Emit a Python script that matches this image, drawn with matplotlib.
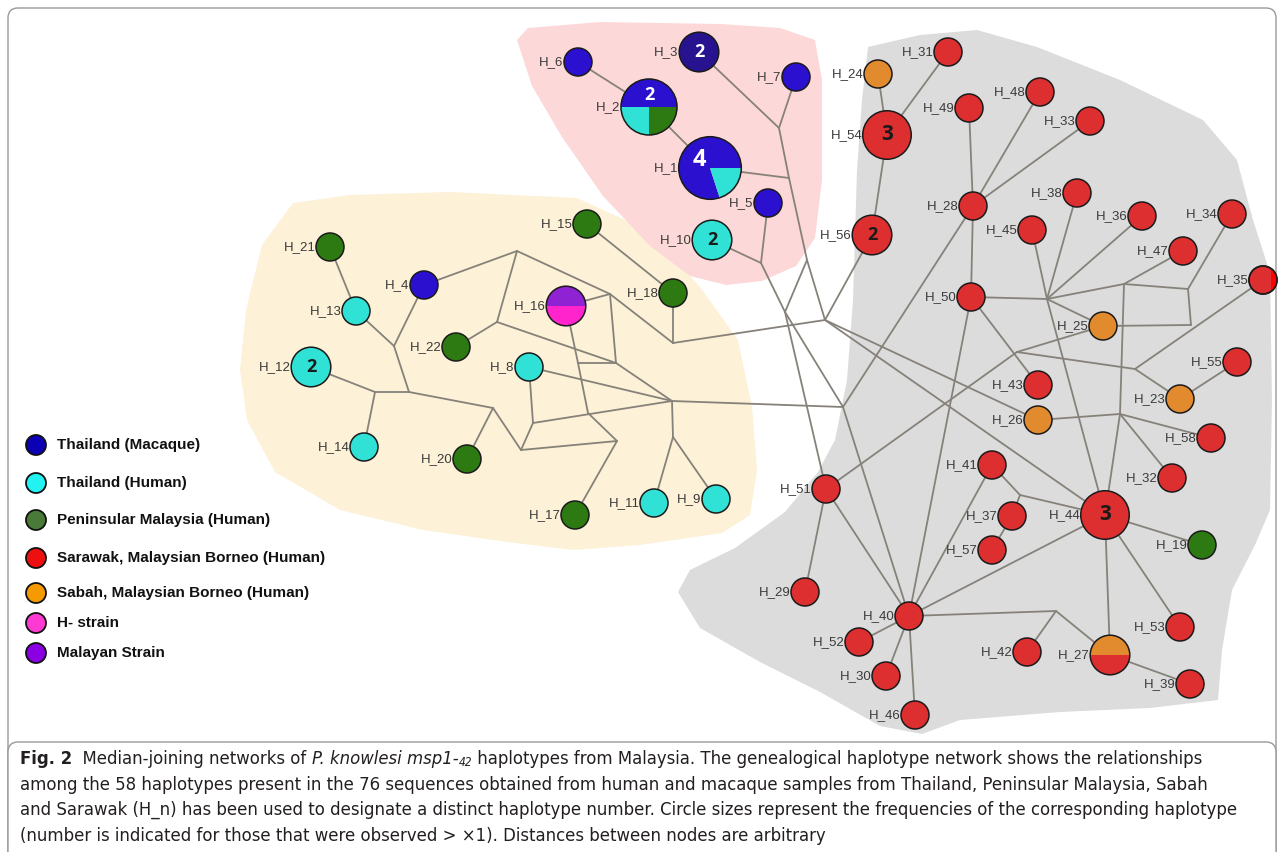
import numpy as np
import matplotlib
matplotlib.use("Agg")
import matplotlib.pyplot as plt
from matplotlib import font_manager
from matplotlib.patches import Circle, Wedge, Polygon, FancyBboxPatch, Rectangle

W, H = 1285, 852

# ---- haplotypes: position on the page and sample counts per group ----
HAP_NAMES = ["H_1", "H_2", "H_3", "H_4", "H_5", "H_6", "H_7", "H_8", "H_9", "H_10",
             "H_11", "H_12", "H_13", "H_14", "H_15", "H_16", "H_17", "H_18", "H_19", "H_20",
             "H_21", "H_22", "H_23", "H_24", "H_25", "H_26", "H_27", "H_28", "H_29", "H_30",
             "H_31", "H_32", "H_33", "H_34", "H_35", "H_36", "H_37", "H_38", "H_39", "H_40",
             "H_41", "H_42", "H_43", "H_44", "H_45", "H_46", "H_47", "H_48", "H_49", "H_50",
             "H_51", "H_52", "H_53", "H_54", "H_55", "H_56", "H_57", "H_58"]
HAP_X = [710, 649, 699, 424, 768, 578, 796, 529, 716, 712,
         654, 311, 356, 364, 587, 566, 575, 673, 1202, 467,
         330, 456, 1180, 878, 1103, 1038, 1110, 973, 805, 886,
         948, 1172, 1090, 1232, 1263, 1142, 1012, 1077, 1190, 909,
         992, 1027, 1038, 1105, 1032, 915, 1183, 1040, 969, 971,
         826, 859, 1180, 887, 1237, 872, 992, 1211]
HAP_Y = [168, 107, 52, 285, 203, 62, 77, 367, 499, 240,
         503, 367, 311, 447, 224, 306, 515, 293, 545, 459,
         247, 347, 399, 74, 326, 420, 655, 206, 592, 676,
         52, 478, 121, 214, 280, 216, 516, 193, 684, 616,
         465, 652, 385, 515, 230, 715, 251, 92, 108, 297,
         489, 642, 627, 135, 362, 235, 550, 438]
HAP_GROUPS = [
    {"mac": 4, "thh": 1}, {"mac": 2, "thh": 1, "pen": 1}, {"mac": 2}, {"mac": 1},
    {"mac": 1}, {"mac": 1}, {"mac": 1}, {"thh": 1}, {"thh": 1}, {"thh": 2},
    {"thh": 1}, {"thh": 2}, {"thh": 1}, {"thh": 1}, {"pen": 1}, {"mal": 1, "hst": 1},
    {"pen": 1}, {"pen": 1}, {"pen": 1}, {"pen": 1},
    {"pen": 1}, {"pen": 1}, {"sab": 1}, {"sab": 1}, {"sab": 1}, {"sab": 1},
    {"sab": 1, "sar": 1}, {"sar": 1}, {"sar": 1}, {"sar": 1},
    {"sar": 1}, {"sar": 1}, {"sar": 1}, {"sar": 1}, {"sar": 1}, {"sar": 1},
    {"sar": 1}, {"sar": 1}, {"sar": 1}, {"sar": 1},
    {"sar": 1}, {"sar": 1}, {"sar": 1}, {"sar": 3}, {"sar": 1}, {"sar": 1},
    {"sar": 1}, {"sar": 1}, {"sar": 1}, {"sar": 1},
    {"sar": 1}, {"sar": 1}, {"sar": 1}, {"sar": 3}, {"sar": 1}, {"sar": 2},
    {"sar": 1}, {"sar": 1},
]

# ---- median vectors (unsampled branch points) ----
MV_NAMES = ["P1", "P2", "P3", "P4", "X1", "JA", "JB",
            "Y1", "Y2", "YH18", "Y3", "Y6", "Y4", "Y5", "Y8", "Y9", "Y10", "Y11",
            "Y12", "Y13", "Y14", "Y15", "YH4",
            "S1", "S2", "S3", "S4", "X2", "X3", "X4", "X5", "X6"]
MV_X = [779, 789, 807, 761, 785, 825, 843,
        517, 610, 673, 616, 578, 497, 672, 588, 533, 673, 617,
        521, 493, 409, 375, 394,
        1047, 1124, 1188, 1191, 1017, 1135, 1120, 1020, 1056]
MV_Y = [128, 178, 260, 263, 312, 320, 407,
        251, 294, 343, 363, 363, 322, 401, 413, 423, 437, 441,
        450, 408, 392, 392, 346,
        299, 284, 289, 325, 352, 369, 414, 495, 611]

EDGES = [
    # macaque cluster
    ("H_6", "H_2"), ("H_2", "H_1"), ("H_3", "P1"), ("H_7", "P1"), ("P1", "P2"),
    ("H_1", "P2"), ("P2", "P3"), ("H_5", "P4"), ("H_10", "P4"),
    # links across clusters
    ("P3", "X1"), ("P4", "X1"), ("X1", "H_51"), ("X1", "JB"), ("P3", "JA"),
    ("YH18", "JA"), ("Y5", "JB"),
    # Thailand / Peninsular cluster
    ("H_21", "H_13"), ("H_13", "YH4"), ("H_4", "YH4"), ("YH4", "Y14"),
    ("Y14", "Y15"), ("Y15", "H_12"), ("Y15", "H_14"), ("Y14", "Y13"),
    ("Y13", "H_20"), ("Y13", "Y12"), ("Y12", "Y9"), ("Y12", "Y11"),
    ("Y9", "H_8"), ("Y9", "Y5"), ("H_8", "Y5"), ("Y11", "H_17"), ("Y11", "Y8"),
    ("Y8", "Y6"), ("Y6", "H_16"), ("Y6", "Y3"), ("Y3", "Y4"), ("Y4", "H_22"),
    ("Y4", "Y1"), ("Y1", "H_4"), ("Y1", "Y2"), ("Y2", "H_16"), ("Y2", "YH18"),
    ("Y2", "Y3"), ("Y3", "Y5"), ("YH18", "H_18"), ("H_15", "H_18"),
    ("Y5", "Y10"), ("Y10", "H_11"), ("Y10", "H_9"),
    # Borneo cluster
    ("H_24", "H_54"), ("H_31", "H_54"), ("H_54", "H_56"), ("H_56", "JA"),
    ("H_49", "H_28"), ("H_48", "H_28"), ("H_33", "H_28"), ("H_28", "H_50"),
    ("H_28", "JB"), ("H_50", "S1"), ("H_50", "H_43"), ("H_50", "H_40"),
    ("S1", "H_45"), ("S1", "H_38"), ("S1", "H_36"), ("S1", "H_25"), ("S1", "S2"),
    ("S1", "H_44"), ("S2", "H_47"), ("S2", "S3"), ("S2", "X4"), ("S3", "H_34"),
    ("S3", "S4"), ("S4", "H_25"), ("H_35", "X3"), ("X3", "H_23"), ("X3", "X2"),
    ("H_23", "H_55"), ("X2", "H_25"), ("X2", "H_51"), ("X4", "H_26"),
    ("X4", "H_58"), ("X4", "H_32"), ("X4", "H_44"), ("JA", "H_26"), ("JA", "H_44"),
    ("H_44", "X5"), ("X5", "H_41"), ("X5", "H_37"), ("H_37", "H_57"),
    ("H_41", "H_40"), ("H_44", "H_40"), ("H_44", "H_27"), ("H_44", "H_19"),
    ("H_44", "H_53"), ("H_40", "H_51"), ("H_40", "JB"), ("H_40", "H_52"),
    ("H_40", "H_30"), ("H_40", "H_46"), ("H_40", "X6"), ("X6", "H_42"),
    ("X6", "H_27"), ("H_27", "H_39"), ("H_51", "H_29"),
]

# pie slices start at 3 o'clock and run anticlockwise in this order
GROUP_ORDER = ["mac", "thh", "pen", "sab", "sar", "mal", "hst"]
GROUP_COLORS = {"mac": "#2b10d0", "thh": "#30e2d6", "pen": "#2d7a12", "sar": "#dd2f2f",
                "sab": "#e28a2e", "hst": "#ff24cc", "mal": "#8f22d2"}

LEGEND_LABELS = ["Thailand (Macaque)", "Thailand (Human)", "Peninsular Malaysia (Human)",
                 "Sarawak, Malaysian Borneo (Human)", "Sabah, Malaysian Borneo (Human)",
                 "H- strain", "Malayan Strain"]
LEGEND_COLORS = ["#0c00b4", "#22f2f2", "#4a7a38", "#ee1010", "#f59a00", "#ff3ad2", "#8a00e2"]
LEGEND_Y = [445, 483, 520, 558, 593, 623, 653]

# shaded cluster outlines
PINK_OUTLINE = [(517, 40), (528, 28), (600, 22), (720, 24), (780, 28), (815, 40), (822, 80),
                (822, 180), (815, 238), (796, 266), (762, 281), (726, 285), (690, 276),
                (650, 246), (603, 196), (562, 137), (532, 86)]
YELLOW_OUTLINE = [(293, 203), (350, 195), (450, 192), (577, 198), (647, 230), (700, 287),
                  (738, 340), (752, 407), (757, 470), (750, 515), (722, 533), (640, 545),
                  (573, 550), (507, 542), (423, 530), (340, 510), (275, 472), (247, 420),
                  (240, 370), (246, 310), (262, 245)]
GREY_OUTLINE = [(868, 47), (920, 35), (977, 30), (1037, 47), (1120, 80), (1203, 120),
                (1237, 160), (1253, 220), (1270, 273), (1272, 400), (1270, 510),
                (1255, 545), (1232, 590), (1222, 650), (1218, 700), (1150, 708),
                (1060, 712), (960, 720), (922, 734), (880, 726), (820, 692), (760, 662),
                (700, 628), (678, 592), (690, 570), (735, 548), (785, 512), (818, 472),
                (835, 440), (847, 380), (853, 300), (857, 170), (862, 100)]

CAPTION_LINES = [
    "among the 58 haplotypes present in the 76 sequences obtained from human and macaque samples from Thailand, Peninsular Malaysia, Sabah",
    "and Sarawak (H_n) has been used to designate a distinct haplotype number. Circle sizes represent the frequencies of the corresponding haplotype",
    "(number is indicated for those that were observed > \u00d71). Distances between nodes are arbitrary",
]
CAPTION_Y = [759, 785, 810, 836]
CAPTION_X0, CAPTION_X1 = 20, 1237

NODE_FONT = "Liberation Sans"
COUNT_FONT = "Open Sans"
EDGE_COLOR = "#86827a"

# pick a narrow face for the caption if one is installed
_faces = {(f.name, f.stretch) for f in font_manager.fontManager.ttflist}
CAP_FONT, CAP_STRETCH = "Liberation Sans", "normal"
for fam in ["Liberation Sans Narrow", "DejaVu Sans", "Noto Sans", "Roboto", "Open Sans"]:
    hit = [s for n, s in _faces if n == fam and str(s) in ("condensed", "semi-condensed", "extra-condensed")]
    if fam == "Liberation Sans Narrow" and any(n == fam for n, _ in _faces):
        CAP_FONT, CAP_STRETCH = fam, "normal"
        break
    if hit:
        CAP_FONT, CAP_STRETCH = fam, hit[0]
        break


def node_radius(total):
    return 14 * np.sqrt(total)


fig = plt.figure(figsize=(W / 100, H / 100), dpi=100)
ax = fig.add_axes([0, 0, 1, 1])
ax.set_xlim(0, W)
ax.set_ylim(H, 0)
ax.axis("off")

# cluster backgrounds
for pts, col in [(YELLOW_OUTLINE, "#fdf1d7"), (PINK_OUTLINE, "#fdd8d8"), (GREY_OUTLINE, "#dcdcdc")]:
    ax.add_patch(Polygon(pts, closed=True, facecolor=col, edgecolor="none", zorder=0,
                         joinstyle="round"))

# page frame and caption box
ax.add_patch(FancyBboxPatch((8, 8), W - 17, H + 40, boxstyle="round,pad=0,rounding_size=10",
                            facecolor="none", edgecolor="#9a9a9a", lw=1.0, zorder=0.5))
ax.add_patch(FancyBboxPatch((8, 742), W - 17, 200, boxstyle="round,pad=0,rounding_size=10",
                            facecolor="white", edgecolor="#9a9a9a", lw=1.0, zorder=0.6))

pos = {n: (x, y) for n, x, y in zip(HAP_NAMES, HAP_X, HAP_Y)}
pos.update({n: (x, y) for n, x, y in zip(MV_NAMES, MV_X, MV_Y)})

for a, b in EDGES:
    (x1, y1), (x2, y2) = pos[a], pos[b]
    ax.plot([x1, x2], [y1, y2], color=EDGE_COLOR, lw=1.3, zorder=1, solid_capstyle="round")

# nodes as pie charts; angles are flipped because the y axis runs downward
for name, x, y, groups in zip(HAP_NAMES, HAP_X, HAP_Y, HAP_GROUPS):
    total = sum(groups.values())
    r = node_radius(total)
    parts = [(g, groups[g]) for g in GROUP_ORDER if g in groups]
    fill = GROUP_COLORS[parts[0][0]]
    if name == "H_3":
        fill = "#27128f"
    if len(parts) == 1:
        ax.add_patch(Circle((x, y), r, facecolor=fill, edgecolor="#1a1a1a", lw=1.1, zorder=3))
        if name == "H_35":
            seg = Rectangle((x + r * 0.6, y - r), r, 2 * r, facecolor="#ff0000",
                            edgecolor="none", zorder=3.1)
            ax.add_patch(seg)
            seg.set_clip_path(Circle((x, y), r, transform=ax.transData))
            ax.add_patch(Circle((x, y), r, facecolor="none", edgecolor="#1a1a1a", lw=1.1, zorder=3.2))
    else:
        start = 0.0
        for g, n in parts:
            span = 360.0 * n / total
            ax.add_patch(Wedge((x, y), r, -(start + span), -start, facecolor=GROUP_COLORS[g],
                               edgecolor="none", zorder=3))
            start += span
        ax.add_patch(Circle((x, y), r, facecolor="none", edgecolor="#1a1a1a", lw=1.1, zorder=3.2))

    # frequency number inside the largest single-group share
    g_big, n_big = max(parts, key=lambda p: p[1])
    if n_big > 1:
        if len(parts) == 1:
            tx, ty = x, y
        else:
            start = 0.0
            for g, n in parts:
                if g == g_big:
                    break
                start += 360.0 * n / total
            mid = np.radians(start + 180.0 * n_big / total)
            tx, ty = x + 0.42 * r * np.cos(mid), y - 0.42 * r * np.sin(mid)
        tcol = "white" if g_big == "mac" else "#1a1a1a"
        ax.text(tx, ty, str(n_big), ha="center", va="center", fontsize=11 + 2 * (n_big - 1),
                fontweight="bold", family=COUNT_FONT, color=tcol, zorder=4)

    ax.text(x - r - 0.5, y, name, ha="right", va="center", fontsize=9.5, family=NODE_FONT,
            color="#3a3a3a", zorder=4)

# legend
for lab, col, ly in zip(LEGEND_LABELS, LEGEND_COLORS, LEGEND_Y):
    ax.add_patch(Circle((36, ly), 10, facecolor=col, edgecolor="#111111", lw=1.3, zorder=3))
    ax.text(57, ly, lab, ha="left", va="center", fontsize=11, fontweight="bold",
            family=NODE_FONT, color="#111111", zorder=4)

# caption
renderer = fig.canvas.get_renderer()


def draw_runs(x, y, runs, size):
    texts = []
    for text, kw in runs:
        kw = dict(kw)
        dy = kw.pop("dy", 0)
        scale = kw.pop("scale", 1.0)
        t = ax.text(x, y + dy, text, ha="left", va="center", family=CAP_FONT,
                    fontstretch=CAP_STRETCH, fontsize=size * scale,
                    color="#231f20", zorder=5, **kw)
        x += t.get_window_extent(renderer).width
        texts.append(t)
    return texts, x


first_line = [
    ("Fig. 2", dict(fontweight="bold")),
    ("  Median-joining networks of ", {}),
    ("P. knowlesi msp1-", dict(style="italic")),
    ("42", dict(style="italic", dy=4, scale=0.65)),
    (" haplotypes from Malaysia. The genealogical haplotype network shows the relationships", {}),
]
all_lines = [first_line] + [[(line, {})] for line in CAPTION_LINES]

# size the caption so its longest line spans the caption box
trial = 12.0
widest = 0
for runs in all_lines:
    texts, xe = draw_runs(CAPTION_X0, -100, runs, trial)
    widest = max(widest, xe - CAPTION_X0)
    for t in texts:
        t.remove()
cap_size = trial * (CAPTION_X1 - CAPTION_X0) / widest

for runs, cy in zip(all_lines, CAPTION_Y):
    draw_runs(CAPTION_X0, cy, runs, cap_size)

fig.savefig("out.png", dpi=100)
